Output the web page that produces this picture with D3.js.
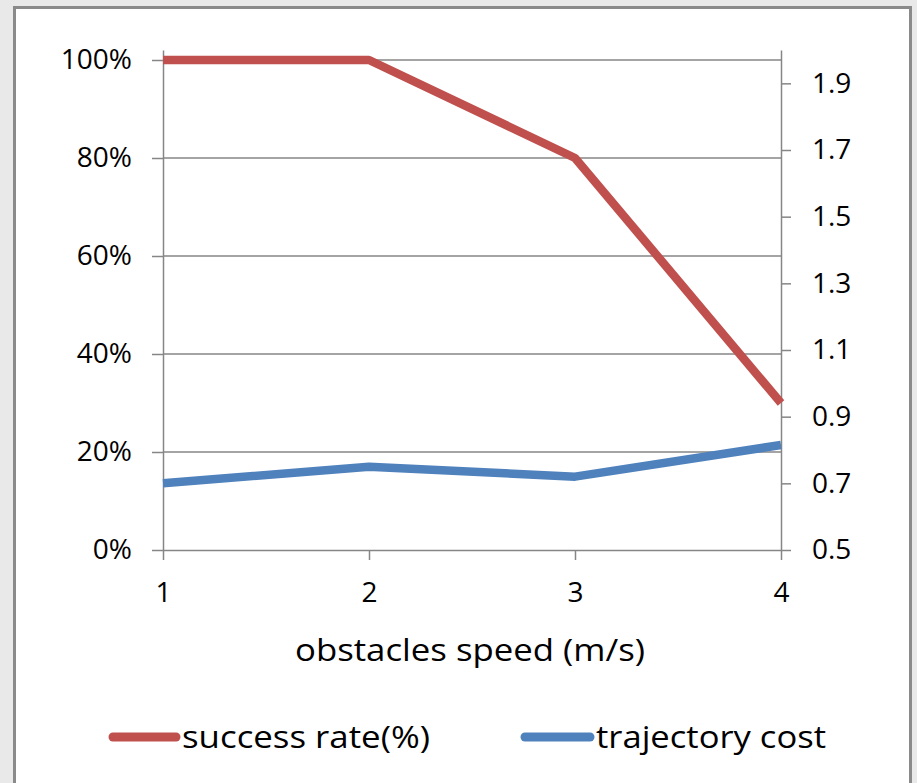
<!DOCTYPE html>
<html>
<head>
<meta charset="utf-8">
<script src="https://cdn.jsdelivr.net/npm/d3@7"></script>
<style>
  html, body { margin: 0; padding: 0; background: #e9e9e9; }
  svg { display: block; }
  text { font-family: "Open Sans", "Noto Sans", sans-serif; fill: #000; }
</style>
</head>
<body>
<svg id="chart" width="917" height="783"></svg>
<script>
// Obstacle speed (m/s) on the x axis
const speeds = [1, 2, 3, 4];
// Success rate (fraction, left axis)
const successRate = [1.00, 1.00, 0.80, 0.30];
// Trajectory cost (right axis)
const trajectoryCost = [0.70, 0.75, 0.72, 0.815];
// Axis ticks
const leftTicks = [0, 0.2, 0.4, 0.6, 0.8, 1.0];
const rightTicks = [0.5, 0.7, 0.9, 1.1, 1.3, 1.5, 1.7, 1.9];
const seriesNames = ["success rate(%)", "trajectory cost"];
const seriesColors = ["#C0504D", "#4F81BD"];

const svg = d3.select("#chart");
const W = 917, H = 783;

// panel frame
svg.append("rect").attr("x", 14.5).attr("y", 7.5).attr("width", 896).attr("height", H)
  .attr("fill", "#fff").attr("stroke", "#8a8a8a").attr("stroke-width", 3);

const plot = { left: 163, right: 781, top: 50, bottom: 550 };

const x = d3.scaleLinear().domain([1, 4]).range([plot.left, plot.right]);
const yL = d3.scaleLinear().domain([0, 1.0204]).range([plot.bottom, plot.top]);
const yR = d3.scaleLinear().domain([0.5, 2.0]).range([plot.bottom, plot.top]);

const axisColor = "#868686";

// horizontal gridlines
svg.append("g").selectAll("line").data(leftTicks.slice(1)).join("line")
  .attr("x1", plot.left).attr("x2", plot.right)
  .attr("y1", d => yL(d)).attr("y2", d => yL(d))
  .attr("stroke", axisColor).attr("stroke-width", 1.5);

function styleAxis(g) {
  g.select(".domain").attr("stroke", axisColor).attr("stroke-width", 1.5);
  g.selectAll(".tick line").attr("stroke", axisColor).attr("stroke-width", 1.5);
  g.selectAll(".tick text").attr("font-size", 28).attr("fill", "#000")
    .attr("font-family", "'Open Sans', 'Noto Sans', sans-serif");
}

// left axis
const gL = svg.append("g").attr("transform", `translate(${plot.left},0)`)
  .call(d3.axisLeft(yL).tickValues(leftTicks).tickFormat(d3.format(".0%"))
    .tickSizeInner(11).tickSizeOuter(0).tickPadding(20));
styleAxis(gL);

// right axis
const gR = svg.append("g").attr("transform", `translate(${plot.right},0)`)
  .call(d3.axisRight(yR).tickValues(rightTicks).tickFormat(d3.format(".1f"))
    .tickSizeInner(10).tickSizeOuter(0).tickPadding(21));
styleAxis(gR);

// bottom axis
const gB = svg.append("g").attr("transform", `translate(0,${plot.bottom})`)
  .call(d3.axisBottom(x).tickValues(speeds).tickFormat(d3.format("d"))
    .tickSizeInner(10).tickSizeOuter(0).tickPadding(22));
styleAxis(gB);

// axis title
svg.append("text").attr("x", (plot.left + plot.right) / 2 - 2).attr("y", 661)
  .attr("text-anchor", "middle").attr("font-size", 31)
  .attr("textLength", 350).attr("lengthAdjust", "spacingAndGlyphs")
  .text("obstacles speed (m/s)");

// series lines
const line = (scale) => d3.line().x((d, i) => x(speeds[i])).y(d => scale(d));
svg.append("path").datum(trajectoryCost).attr("d", line(yR))
  .attr("fill", "none").attr("stroke", seriesColors[1]).attr("stroke-width", 8.5)
  .attr("stroke-linejoin", "round").attr("stroke-linecap", "butt");
svg.append("path").datum(successRate).attr("d", line(yL))
  .attr("fill", "none").attr("stroke", seriesColors[0]).attr("stroke-width", 8.5)
  .attr("stroke-linejoin", "round").attr("stroke-linecap", "butt");

// legend
const legendY = 737;
const legendItems = [
  { name: seriesNames[0], color: seriesColors[0], x0: 113, x1: 176, w: 248 },
  { name: seriesNames[1], color: seriesColors[1], x0: 525, x1: 590, w: 230 }
];
const lg = svg.append("g");
legendItems.forEach(it => {
  lg.append("line").attr("x1", it.x0).attr("x2", it.x1)
    .attr("y1", legendY).attr("y2", legendY)
    .attr("stroke", it.color).attr("stroke-width", 9).attr("stroke-linecap", "round");
  lg.append("text").attr("x", it.x1 + 6).attr("y", legendY + 11)
    .attr("font-size", 31).attr("textLength", it.w).attr("lengthAdjust", "spacingAndGlyphs")
    .text(it.name);
});
</script>
</body>
</html>
